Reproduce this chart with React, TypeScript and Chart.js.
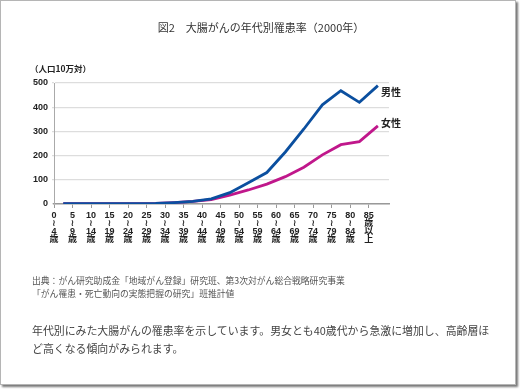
import React, { useEffect, useRef } from "react";
import { Chart, registerables } from "chart.js";

Chart.register(...registerables);

const ageStarts = [0, 5, 10, 15, 20, 25, 30, 35, 40, 45, 50, 55, 60, 65, 70, 75, 80, 85];
const ageLabels: string[][] = [
  ["0", "≀", "4", "歳"], ["5", "≀", "9", "歳"], ["10", "≀", "14", "歳"], ["15", "≀", "19", "歳"],
  ["20", "≀", "24", "歳"], ["25", "≀", "29", "歳"], ["30", "≀", "34", "歳"], ["35", "≀", "39", "歳"],
  ["40", "≀", "44", "歳"], ["45", "≀", "49", "歳"], ["50", "≀", "54", "歳"], ["55", "≀", "59", "歳"],
  ["60", "≀", "64", "歳"], ["65", "≀", "69", "歳"], ["70", "≀", "74", "歳"], ["75", "≀", "79", "歳"],
  ["80", "≀", "84", "歳"], ["85", "歳", "以", "上"],
];
const groupMid = [2.5, 7.5, 12.5, 17.5, 22.5, 27.5, 32.5, 37.5, 42.5, 47.5, 52.5, 57.5, 62.5, 67.5, 72.5, 77.5, 82.5, 87.5];
const maleRate = [1, 1, 1, 1, 1, 2, 6, 11, 21, 47, 88, 130, 215, 310, 410, 468, 420, 489];
const femaleRate = [1, 1, 1, 1, 1, 2, 6, 11, 18, 37, 58, 82, 113, 152, 203, 245, 258, 323];
const seriesNames = ["男性", "女性"];
const yTicks = [0, 100, 200, 300, 400, 500];

const FONT = '"Liberation Sans", "Noto Sans CJK JP", "DejaVu Sans", sans-serif';

const endLabelPlugin = {
  id: "endLabels",
  afterDatasetsDraw(chart: any) {
    const ctx = chart.ctx;
    const offsets = [8, -2];
    ctx.save();
    ctx.font = `bold 10px ${FONT}`;
    ctx.fillStyle = "#222";
    ctx.textBaseline = "middle";
    ctx.textAlign = "left";
    chart.data.datasets.forEach((ds: any, i: number) => {
      const meta = chart.getDatasetMeta(i);
      const pt = meta.data[meta.data.length - 1];
      ctx.fillText(ds.label, pt.x + 3, pt.y + offsets[i]);
    });
    ctx.restore();
  },
};

export default function App() {
  const ref = useRef<HTMLCanvasElement>(null);
  useEffect(() => {
    if (!ref.current) return;
    const chart = new Chart(ref.current, {
      type: "line",
      data: {
        datasets: [
          {
            label: seriesNames[0],
            data: groupMid.map((x, i) => ({ x, y: maleRate[i] })),
            borderColor: "#0b4f9f",
            borderWidth: 2.8,
            pointRadius: 0,
            tension: 0,
          },
          {
            label: seriesNames[1],
            data: groupMid.map((x, i) => ({ x, y: femaleRate[i] })),
            borderColor: "#c0178b",
            borderWidth: 2.8,
            pointRadius: 0,
            tension: 0,
          },
        ],
      },
      options: {
        animation: false,
        responsive: false,
        maintainAspectRatio: false,
        layout: { padding: { left: 0, right: 131, top: 83, bottom: 0 } },
        plugins: { legend: { display: false }, tooltip: { enabled: false }, title: { display: false } },
        scales: {
          x: {
            type: "linear",
            min: 0,
            max: 90.5,
            afterBuildTicks: (scale: any) => {
              scale.ticks = ageStarts.map((v) => ({ value: v }));
            },
            afterFit: (scale: any) => {
              scale.height = 56;
            },
            ticks: {
              autoSkip: false,
              maxRotation: 0,
              padding: 3,
              color: "#222",
              font: { family: FONT, size: 9, weight: "bold", lineHeight: 0.9 },
              callback: (v: any) => {
                const idx = ageStarts.indexOf(Number(v));
                return idx >= 0 ? ageLabels[idx] : "";
              },
            },
            grid: { drawOnChartArea: false, drawTicks: true, tickLength: 4, color: "#999" },
            border: { color: "#999", width: 1.5 },
          },
          y: {
            min: 0,
            max: 500,
            afterBuildTicks: (scale: any) => {
              scale.ticks = yTicks.map((v) => ({ value: v }));
            },
            afterFit: (scale: any) => {
              scale.width = 54;
            },
            ticks: {
              color: "#222",
              padding: 4,
              font: { family: FONT, size: 9, weight: "bold" },
            },
            grid: { color: "#ddd", lineWidth: 1.2, tickLength: 2 },
            border: { color: "#aaa", width: 1 },
          },
        },
      },
      plugins: [endLabelPlugin],
    });
    return () => chart.destroy();
  }, []);

  return (
    <div style={{ position: "fixed", left: 0, top: 0, width: 520, height: 389, background: "#fff" }}>
      <div
        style={{
          position: "absolute",
          left: 0,
          top: 0,
          width: 514,
          height: 383,
          border: "1px solid #b5b5b5",
          boxShadow: "2px 2px 2px #777",
          background: "#fff",
          fontFamily: '"Noto Sans CJK JP", sans-serif',
        }}
      >
        <div style={{ position: "absolute", left: 0, width: 520, top: 18, textAlign: "center", fontSize: 11, color: "#333", lineHeight: "16px" }}>
          図2　大腸がんの年代別罹患率（2000年）
        </div>
        <div style={{ position: "absolute", left: 29, top: 61, fontSize: 8.5, fontWeight: "bold", color: "#222", lineHeight: "13px" }}>
          （人口10万対）
        </div>
        <canvas ref={ref} width={520} height={260} style={{ position: "absolute", left: -1, top: -1, width: 520, height: 260 }} />
        <div style={{ position: "absolute", left: 31, top: 273, fontSize: 8.8, color: "#555", lineHeight: "13px" }}>
          出典：がん研究助成金「地域がん登録」研究班、第3次対がん総合戦略研究事業
          <br />
          「がん罹患・死亡動向の実態把握の研究」班推計値
        </div>
        <div style={{ position: "absolute", left: 31, top: 320, width: 480, fontSize: 10.9, color: "#444", lineHeight: "18px", whiteSpace: "nowrap" }}>
          年代別にみた大腸がんの罹患率を示しています。男女とも40歳代から急激に増加し、高齢層ほ
          <br />
          ど高くなる傾向がみられます。
        </div>
      </div>
    </div>
  );
}
